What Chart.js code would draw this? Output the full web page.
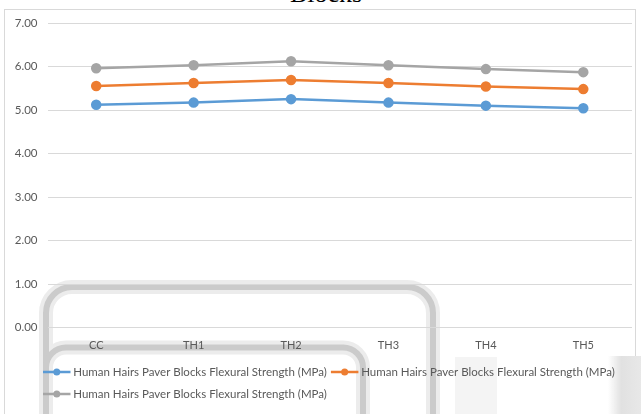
<!DOCTYPE html>
<html>
<head>
<meta charset="utf-8">
<script src="https://cdn.jsdelivr.net/npm/chart.js@4/dist/chart.umd.min.js"></script>
<style>
  html, body { margin: 0; padding: 0; background: #ffffff; }
  #wrap { position: relative; width: 641px; height: 414px; overflow: hidden; }
  #frame { position: absolute; left: 4px; top: 9px; width: 632px; height: 420px; border: 1px solid #d9d9d9; box-sizing: border-box; }
  #title { position: absolute; left: 0; width: 652px; top: -19px; text-align: center;
           font-family: "Liberation Serif", "Times New Roman", serif; font-size: 26px; line-height: 26px; color: #000; }
  #chart { position: absolute; left: 0; top: 0; }
</style>
</head>
<body>
<div id="wrap">
  <div id="frame"></div>
  <div id="title">Blocks</div>
  <canvas id="chart" width="641" height="414"></canvas>
</div>
<script>
// Mix designs along the horizontal axis
const categories = ['CC', 'TH1', 'TH2', 'TH3', 'TH4', 'TH5'];

// Flexural strength (MPa), one array per plotted series
const seriesBlue   = [5.12, 5.17, 5.25, 5.17, 5.10, 5.04];
const seriesOrange = [5.55, 5.62, 5.69, 5.62, 5.54, 5.48];
const seriesGray   = [5.96, 6.03, 6.12, 6.03, 5.94, 5.87];

const seriesLabels = [
  'Human Hairs Paver Blocks Flexural Strength (MPa)',
  'Human Hairs Paver Blocks Flexural Strength (MPa)',
  'Human Hairs Paver Blocks Flexural Strength (MPa)'
];

// Value axis range and step
const yMin = 0;
const yMax = 7;
const yStep = 1;

const COLORS = ['#5b9bd5', '#ed7d31', '#a5a5a5'];
const FONT = 'Lato, "Liberation Sans", sans-serif';

function lineSet(label, data, color) {
  return {
    label, data,
    borderColor: color, backgroundColor: color,
    pointBackgroundColor: color, pointBorderColor: color,
    borderWidth: 2.5, pointRadius: 4, pointHoverRadius: 4, tension: 0
  };
}

// Soft grey frame shapes painted behind the plot
const backdropShapes = {
  id: 'backdropShapes',
  beforeDraw(chart) {
    const ctx = chart.ctx;
    ctx.save();
    function arch(x1, x2, top, r) {
      ctx.beginPath();
      ctx.moveTo(x1, 420);
      ctx.lineTo(x1, top + r);
      ctx.arcTo(x1, top, x1 + r, top, r);
      ctx.lineTo(x2 - r, top);
      ctx.arcTo(x2, top, x2, top + r, r);
      ctx.lineTo(x2, 420);
    }
    ctx.fillStyle = '#f4f4f4';
    ctx.fillRect(455, 357, 42, 60);
    const g = ctx.createLinearGradient(608, 0, 641, 0);
    g.addColorStop(0, 'rgba(225,225,225,0)');
    g.addColorStop(0.4, 'rgba(225,225,225,1)');
    g.addColorStop(1, 'rgba(232,232,232,1)');
    ctx.fillStyle = g;
    ctx.fillRect(608, 356, 33, 60);
    ctx.lineCap = 'butt';
    ctx.strokeStyle = '#ececec';
    ctx.lineWidth = 14;
    arch(46, 433, 287, 26); ctx.stroke();
    arch(46, 363, 347.5, 20); ctx.stroke();
    ctx.strokeStyle = '#cbcbcb';
    ctx.lineWidth = 6;
    arch(46, 433, 287, 26); ctx.stroke();
    arch(46, 363, 347.5, 20); ctx.stroke();
    ctx.restore();
  }
};

// Legend rows start in line with the plot area, not the canvas edge
const LEGEND_LEFT = 39;
const legendIndent = {
  id: 'legendIndent',
  afterUpdate(chart) {
    const lg = chart.legend;
    if (!lg) return;
    const dx = LEGEND_LEFT - lg.left;
    lg.left = LEGEND_LEFT;
    lg.width = lg.right - lg.left;
    (lg.legendHitBoxes || []).forEach(hb => { hb.left += dx; });
  }
};

// Line-and-dot symbols in the legend, placed on the legend's own hit boxes
const legendMarkers = {
  id: 'legendMarkers',
  afterDraw(chart) {
    const lg = chart.legend;
    if (!lg || !lg.legendHitBoxes) return;
    const ctx = chart.ctx;
    ctx.save();
    lg.legendHitBoxes.forEach((hb, i) => {
      const color = chart.data.datasets[i].borderColor;
      const y = hb.top + hb.height / 2;
      const x0 = hb.left, x1 = hb.left + 27.5;
      ctx.strokeStyle = color;
      ctx.lineWidth = 2.5;
      ctx.beginPath(); ctx.moveTo(x0, y); ctx.lineTo(x1, y); ctx.stroke();
      ctx.fillStyle = color;
      ctx.beginPath(); ctx.arc((x0 + x1) / 2, y, 3.5, 0, Math.PI * 2); ctx.fill();
    });
    ctx.restore();
  }
};

new Chart(document.getElementById('chart'), {
  type: 'line',
  data: {
    labels: categories,
    datasets: [
      lineSet(seriesLabels[0], seriesBlue, COLORS[0]),
      lineSet(seriesLabels[1], seriesOrange, COLORS[1]),
      lineSet(seriesLabels[2], seriesGray, COLORS[2])
    ]
  },
  plugins: [backdropShapes, legendIndent, legendMarkers],
  options: {
    responsive: false,
    animation: false,
    events: [],
    layout: { padding: { left: 4, right: 9, top: 23, bottom: 1 } },
    scales: {
      x: {
        offset: true,
        grid: { display: false, drawTicks: false },
        border: { display: false },
        ticks: { color: '#595959', font: { family: FONT, size: 11 }, padding: 11, maxRotation: 0 },
        afterFit(scale) { scale.height = 31.5; }
      },
      y: {
        min: yMin, max: yMax,
        grid: { color: '#d9d9d9', lineWidth: 1, drawTicks: false },
        border: { display: false },
        ticks: {
          stepSize: yStep, color: '#595959', padding: 10,
          font: { family: FONT, size: 11.5 },
          callback: v => Number(v).toFixed(2)
        },
        afterFit(scale) { scale.width = 43.5; }
      }
    },
    plugins: {
      title: { display: false },
      tooltip: { enabled: false },
      legend: {
        position: 'bottom',
        align: 'start',
        labels: {
          color: '#595959',
          font: { family: FONT, size: 11.5 },
          boxWidth: 24.5,
          boxHeight: 18,
          padding: 4,
          generateLabels(chart) {
            return chart.data.datasets.map((ds, i) => ({
              text: ds.label,
              fillStyle: 'rgba(0,0,0,0)',
              strokeStyle: 'rgba(0,0,0,0)',
              lineWidth: 0,
              hidden: false,
              datasetIndex: i,
              fontColor: '#595959'
            }));
          }
        }
      }
    }
  }
});
</script>
</body>
</html>
